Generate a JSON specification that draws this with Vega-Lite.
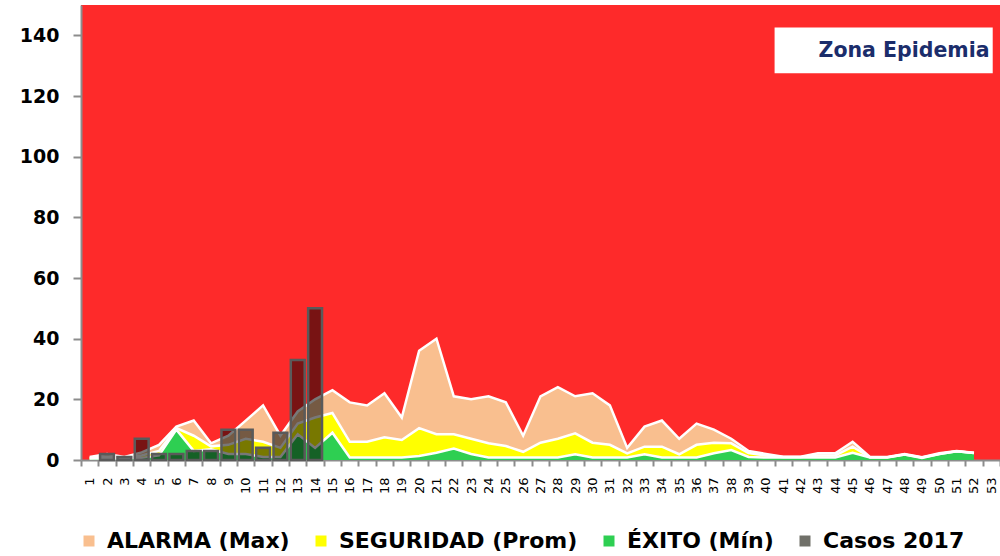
{
  "$schema": "https://vega.github.io/schema/vega-lite/v6.json",
  "width": 919,
  "height": 455,
  "autosize": {"type": "none"},
  "padding": {"left": 81, "top": 5, "right": 0, "bottom": 96},
  "view": {"fill": "#fe2a2a", "stroke": null},
  "config": {"font": "DejaVu Sans"},
  "datasets": {
    "semanas": [
      {"semana": 1, "alarma": 1, "seguridad": 0.7, "exito": 0.5, "casos": null},
      {"semana": 2, "alarma": 2, "seguridad": 1, "exito": 0.5, "casos": 2},
      {"semana": 3, "alarma": 1, "seguridad": 0.7, "exito": 0.5, "casos": 1},
      {"semana": 4, "alarma": 2.5, "seguridad": 1.5, "exito": 0.7, "casos": 7},
      {"semana": 5, "alarma": 5, "seguridad": 3, "exito": 1.5, "casos": 2},
      {"semana": 6, "alarma": 11, "seguridad": 10.5, "exito": 10, "casos": 2},
      {"semana": 7, "alarma": 13, "seguridad": 8, "exito": 3, "casos": 3},
      {"semana": 8, "alarma": 5.5, "seguridad": 4.5, "exito": 3.5, "casos": 3},
      {"semana": 9, "alarma": 8, "seguridad": 5, "exito": 2, "casos": 10},
      {"semana": 10, "alarma": 13, "seguridad": 7, "exito": 2, "casos": 10},
      {"semana": 11, "alarma": 18, "seguridad": 6, "exito": 1, "casos": 4},
      {"semana": 12, "alarma": 8, "seguridad": 4, "exito": 1, "casos": 9},
      {"semana": 13, "alarma": 16, "seguridad": 12, "exito": 8.5, "casos": 33},
      {"semana": 14, "alarma": 20, "seguridad": 14, "exito": 4, "casos": 50},
      {"semana": 15, "alarma": 23, "seguridad": 15.5, "exito": 9, "casos": null},
      {"semana": 16, "alarma": 19, "seguridad": 6, "exito": 0.8, "casos": null},
      {"semana": 17, "alarma": 18, "seguridad": 6, "exito": 0.8, "casos": null},
      {"semana": 18, "alarma": 22, "seguridad": 7.5, "exito": 0.8, "casos": null},
      {"semana": 19, "alarma": 14, "seguridad": 6.6, "exito": 0.8, "casos": null},
      {"semana": 20, "alarma": 36, "seguridad": 10.5, "exito": 1.3, "casos": null},
      {"semana": 21, "alarma": 40, "seguridad": 8.5, "exito": 2.4, "casos": null},
      {"semana": 22, "alarma": 21, "seguridad": 8.5, "exito": 3.8, "casos": null},
      {"semana": 23, "alarma": 20, "seguridad": 7, "exito": 2, "casos": null},
      {"semana": 24, "alarma": 21, "seguridad": 5.5, "exito": 0.8, "casos": null},
      {"semana": 25, "alarma": 19, "seguridad": 4.6, "exito": 0.8, "casos": null},
      {"semana": 26, "alarma": 8, "seguridad": 2.7, "exito": 0.8, "casos": null},
      {"semana": 27, "alarma": 21, "seguridad": 5.7, "exito": 0.8, "casos": null},
      {"semana": 28, "alarma": 24, "seguridad": 7, "exito": 0.8, "casos": null},
      {"semana": 29, "alarma": 21, "seguridad": 8.8, "exito": 1.9, "casos": null},
      {"semana": 30, "alarma": 22, "seguridad": 5.7, "exito": 0.8, "casos": null},
      {"semana": 31, "alarma": 18, "seguridad": 5, "exito": 0.8, "casos": null},
      {"semana": 32, "alarma": 4, "seguridad": 2.2, "exito": 0.8, "casos": null},
      {"semana": 33, "alarma": 11, "seguridad": 4.4, "exito": 1.9, "casos": null},
      {"semana": 34, "alarma": 13, "seguridad": 4.4, "exito": 0.8, "casos": null},
      {"semana": 35, "alarma": 7, "seguridad": 1.9, "exito": 0.8, "casos": null},
      {"semana": 36, "alarma": 12, "seguridad": 5, "exito": 0.8, "casos": null},
      {"semana": 37, "alarma": 10, "seguridad": 5.7, "exito": 2.2, "casos": null},
      {"semana": 38, "alarma": 7, "seguridad": 5.5, "exito": 3.3, "casos": null},
      {"semana": 39, "alarma": 3, "seguridad": 2.3, "exito": 1, "casos": null},
      {"semana": 40, "alarma": 2, "seguridad": 1.5, "exito": 0.8, "casos": null},
      {"semana": 41, "alarma": 1.1, "seguridad": 1, "exito": 0.8, "casos": null},
      {"semana": 42, "alarma": 1.1, "seguridad": 1, "exito": 0.8, "casos": null},
      {"semana": 43, "alarma": 2.2, "seguridad": 1.5, "exito": 0.8, "casos": null},
      {"semana": 44, "alarma": 2.2, "seguridad": 1.5, "exito": 0.8, "casos": null},
      {"semana": 45, "alarma": 6, "seguridad": 4.4, "exito": 2.4, "casos": null},
      {"semana": 46, "alarma": 1, "seguridad": 0.9, "exito": 0.8, "casos": null},
      {"semana": 47, "alarma": 1, "seguridad": 0.9, "exito": 0.8, "casos": null},
      {"semana": 48, "alarma": 2, "seguridad": 1.8, "exito": 1.8, "casos": null},
      {"semana": 49, "alarma": 0.9, "seguridad": 0.8, "exito": 0.7, "casos": null},
      {"semana": 50, "alarma": 2.2, "seguridad": 2, "exito": 2, "casos": null},
      {"semana": 51, "alarma": 3, "seguridad": 2.9, "exito": 2.9, "casos": null},
      {"semana": 52, "alarma": 2.4, "seguridad": 2.3, "exito": 2.3, "casos": null},
      {"semana": 53, "alarma": null, "seguridad": null, "exito": null, "casos": null}
    ],
    "zona": [
      {"desde": 41, "hasta": 53, "y1": 127.5, "y2": 142.6, "ytexto": 135, "texto": "Zona Epidemia"}
    ]
  },
  "data": {"name": "semanas"},
  "layer": [
    {
      "mark": {"type": "area", "opacity": 1},
      "encoding": {
        "x": {
          "field": "semana", "type": "ordinal", "title": null,
          "scale": {"paddingInner": 0, "paddingOuter": 0},
          "axis": {
            "labelAngle": -90, "labelFont": "DejaVu Sans", "labelFontSize": 13, "labelColor": "#000000",
            "labelPadding": 11, "tickBand": "extent", "tickColor": "#8c8c8c", "tickWidth": 2, "tickSize": 6,
            "domainColor": "#8c8c8c", "domainWidth": 2
          }
        },
        "y": {
          "field": "alarma", "type": "quantitative", "title": null,
          "scale": {"domain": [0, 150], "nice": false},
          "axis": {
            "values": [0, 20, 40, 60, 80, 100, 120, 140], "grid": false,
            "labelFont": "DejaVu Sans", "labelFontWeight": "bold", "labelFontSize": 19, "labelColor": "#000000",
            "labelPadding": 14, "tickColor": "#8c8c8c", "tickWidth": 2, "tickSize": 8,
            "domainColor": "#8c8c8c", "domainWidth": 2
          }
        },
        "color": {
          "datum": "ALARMA (Max)",
          "scale": {
            "domain": ["ALARMA (Max)", "SEGURIDAD (Prom)", "ÉXITO (Mín)", "Casos 2017"],
            "range": ["#f9bf8f", "#ffff00", "#2ecf52", "#707069"]
          },
          "legend": {
            "title": null, "orient": "none", "legendX": -3, "legendY": 525, "direction": "horizontal",
            "columns": 4, "columnPadding": 20, "symbolType": "square", "symbolSize": 121,
            "symbolStrokeWidth": 0,
            "labelFont": "DejaVu Sans", "labelFontWeight": "bold", "labelFontSize": 22, "labelColor": "#000000",
            "labelOffset": 7, "labelLimit": 400
          }
        }
      }
    },
    {
      "mark": {"type": "area", "opacity": 1},
      "encoding": {
        "x": {"field": "semana", "type": "ordinal"},
        "y": {"field": "seguridad", "type": "quantitative"},
        "color": {"datum": "SEGURIDAD (Prom)"}
      }
    },
    {
      "mark": {"type": "area", "opacity": 1},
      "encoding": {
        "x": {"field": "semana", "type": "ordinal"},
        "y": {"field": "exito", "type": "quantitative"},
        "color": {"datum": "ÉXITO (Mín)"}
      }
    },
    {
      "mark": {"type": "line", "color": "#ffffff", "strokeWidth": 2.5},
      "encoding": {
        "x": {"field": "semana", "type": "ordinal"},
        "y": {"field": "alarma", "type": "quantitative"}
      }
    },
    {
      "mark": {"type": "line", "color": "#ffffff", "strokeWidth": 2.5},
      "encoding": {
        "x": {"field": "semana", "type": "ordinal"},
        "y": {"field": "seguridad", "type": "quantitative"}
      }
    },
    {
      "mark": {"type": "line", "color": "#ffffff", "strokeWidth": 2.5},
      "encoding": {
        "x": {"field": "semana", "type": "ordinal"},
        "y": {"field": "exito", "type": "quantitative"}
      }
    },
    {
      "mark": {"type": "bar", "width": {"band": 0.8}, "fill": "#000000", "fillOpacity": 0.53, "stroke": "#5a5a5a", "strokeWidth": 2.5},
      "encoding": {
        "x": {"field": "semana", "type": "ordinal"},
        "y": {"field": "casos", "type": "quantitative"}
      }
    },
    {
      "data": {"name": "zona"},
      "mark": {"type": "rect", "fill": "#ffffff"},
      "encoding": {
        "x": {"field": "desde", "type": "ordinal", "bandPosition": 0},
        "x2": {"field": "hasta", "bandPosition": 0.58},
        "y": {"field": "y1", "type": "quantitative"},
        "y2": {"field": "y2"}
      }
    },
    {
      "data": {"name": "zona"},
      "mark": {"type": "text", "align": "right", "baseline": "middle", "font": "DejaVu Sans", "fontWeight": "bold", "fontSize": 20.5, "color": "#1b2d6b"},
      "encoding": {
        "x": {"field": "hasta", "type": "ordinal", "bandPosition": 0.4},
        "y": {"field": "ytexto", "type": "quantitative"},
        "text": {"field": "texto"}
      }
    }
  ]
}
